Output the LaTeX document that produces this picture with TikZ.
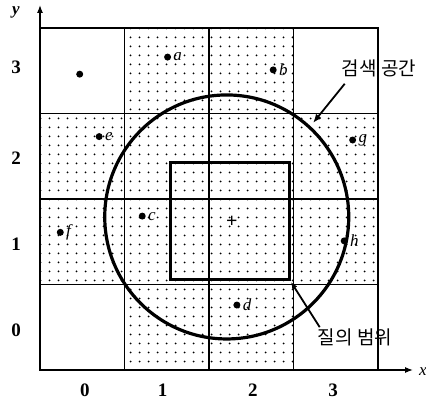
\documentclass[tikz,border=0pt]{standalone}
\usepackage{fontspec}
\setmainfont{Liberation Serif}
\newfontfamily\krfont{Noto Sans CJK KR}
\usetikzlibrary{arrows.meta,patterns,positioning}
\pgfdeclarepatternformonly{stipple}{\pgfqpoint{-1pt}{-1pt}}{\pgfqpoint{10pt}{10pt}}{\pgfqpoint{9pt}{9pt}}{%
  \pgfpathcircle{\pgfqpoint{4.5pt}{4.5pt}}{1pt}\pgfusepath{fill}}

\begin{document}
\begin{tikzpicture}[x=84.5pt,y=85.5pt,>=Latex,
  pt/.style={circle,fill,inner sep=0pt,minimum size=7pt},
  lbl/.style={font=\fontsize{17}{17}\selectfont\itshape,inner sep=1pt},
  num/.style={font=\fontsize{19}{19}\selectfont\bfseries},
  kor/.style={font=\fontsize{19}{19}\selectfont\krfont,inner sep=1pt},
  gridline/.style={line width=1.2pt}]
\useasboundingbox (-40pt,-32pt) rectangle (386pt,370pt);

% dotted cells
\foreach \i/\j in {1/0,2/0,0/1,1/1,2/1,3/1,0/2,1/2,2/2,3/2,1/3,2/3}
  \fill[pattern=stipple] (\i,\j) rectangle ++(1,1);
\foreach \k in {1,2,3} {
  \draw[gridline] (\k,0) -- (\k,4);
  \draw[gridline] (0,\k) -- (4,\k);
}
\draw[gridline] (0,0) rectangle (4,4);

% axes
\coordinate (o) at (0,0);
\coordinate (xend) at (373pt,0);
\coordinate (yend) at (0,365pt);
\draw[gridline,-{Latex[length=8pt,width=6pt]}] (o) -- (xend);
\draw[gridline,-{Latex[length=8pt,width=6pt]}] (o) -- (yend);
\node[lbl] (xlab) at (383pt,-2pt) {x};
\node[lbl,font=\fontsize{17}{17}\selectfont\bfseries\itshape] (ylab) at (-24pt,358pt) {y};
\foreach \k/\xx/\yy in {0/0.53/0.47,1/1.45/1.47,2/2.52/2.48,3/3.47/3.54} {
  \node[num] (xn\k) at (\xx,-0.234) {\k};
  \node[num] (yn\k) at (-0.284,\yy) {\k};
}

% search space and query range
\draw[line width=3.2pt] (2.21,1.79) circle[radius=122pt];
\draw[line width=3pt] (1.54,1.06) rectangle (2.95,2.43);
\node[font=\fontsize{20}{20}\selectfont\bfseries,inner sep=0pt] (ctr) at (2.27,1.73) {+};

% points
\node[pt] (p0) at (0.47,3.46) {};
\foreach \n/\px/\py in {a/1.51/3.66,b/2.76/3.51,c/1.21/1.80,d/2.33/0.76,
                        e/0.70/2.73,f/0.24/1.61,g/3.70/2.69,h/3.60/1.51} {
  \node[pt] (\n) at (\px,\py) {};
  \node[lbl,right=1pt of \n] (l\n) {\n};
}

% labels
\node[kor] (space) at (339pt,302pt) {검색 공간};
\node[kor] (query) at (315pt,33pt) {질의 범위};
\coordinate (spacetip) at (273pt,247pt);
\coordinate (querytip) at (251pt,88pt);
\draw[line width=1.8pt,-{Latex[length=9pt,width=7pt]}] ([xshift=4pt,yshift=-6pt]space.south west) -- (spacetip);
\draw[line width=1.8pt,-{Latex[length=7pt,width=6pt]}] ([xshift=3pt]query.north west) -- (querytip);
\end{tikzpicture}
\end{document}
